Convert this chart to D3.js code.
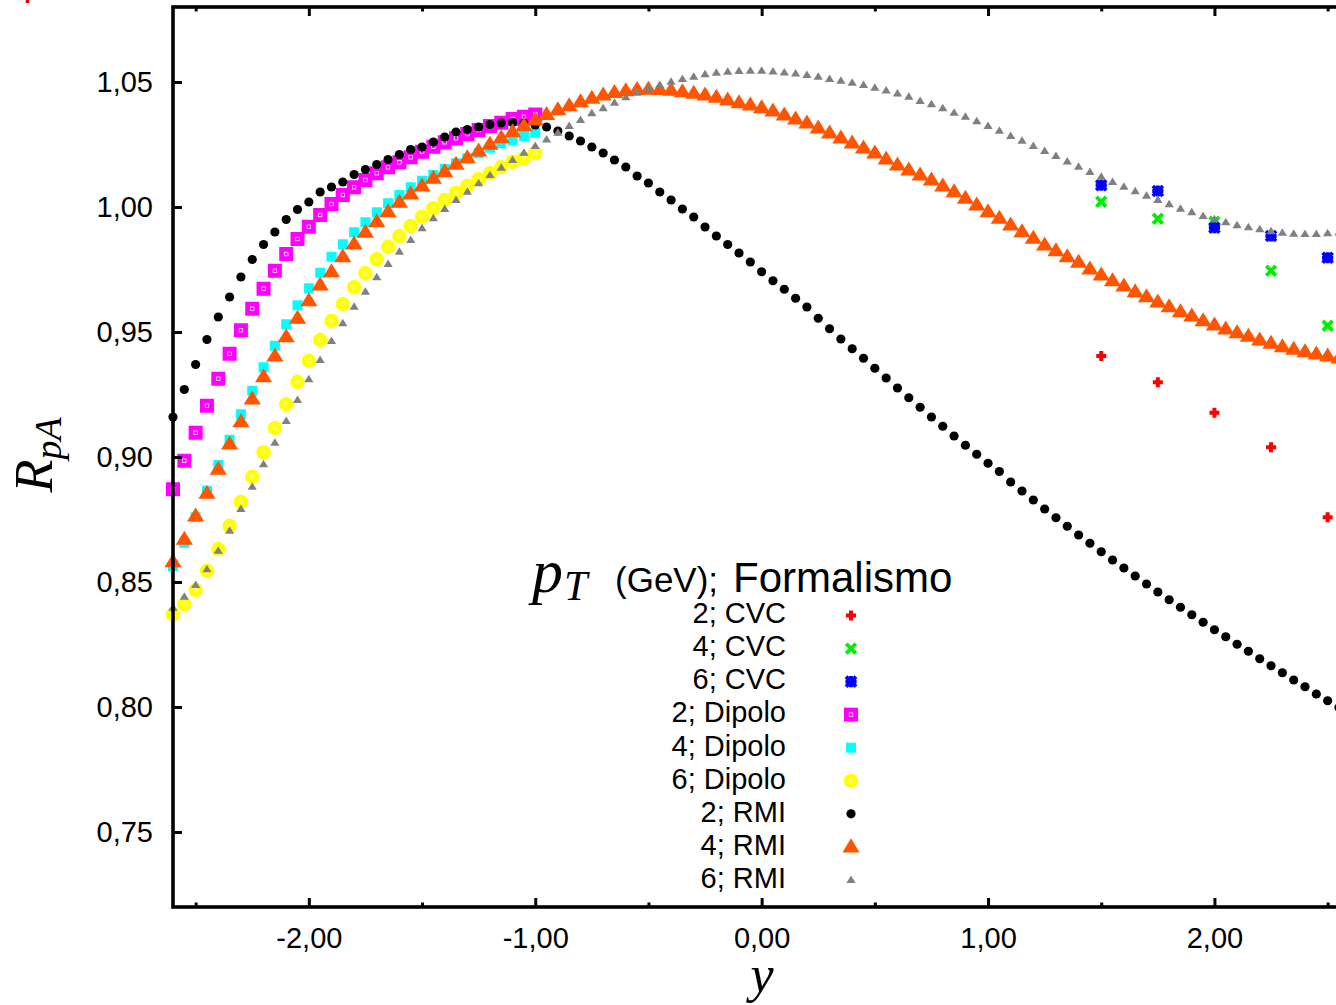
<!DOCTYPE html>
<html><head><meta charset="utf-8">
<script src="https://cdn.jsdelivr.net/npm/d3@7"></script>
<style>body{margin:0;background:#fff}svg{display:block}</style>
</head><body>
<script>
// ---- data ----
const rapidity = [-2.60,-2.55,-2.50,-2.45,-2.40,-2.35,-2.30,-2.25,-2.20,-2.15,-2.10,-2.05,-2.00,-1.95,-1.90,-1.85,-1.80,-1.75,-1.70,-1.65,
 -1.60,-1.55,-1.50,-1.45,-1.40,-1.35,-1.30,-1.25,-1.20,-1.15,-1.10,-1.05,-1.00,-0.95,-0.90,-0.85,-0.80,-0.75,-0.70,-0.65,
 -0.60,-0.55,-0.50,-0.45,-0.40,-0.35,-0.30,-0.25,-0.20,-0.15,-0.10,-0.05,0.00,0.05,0.10,0.15,0.20,0.25,0.30,0.35,
 0.40,0.45,0.50,0.55,0.60,0.65,0.70,0.75,0.80,0.85,0.90,0.95,1.00,1.05,1.10,1.15,1.20,1.25,1.30,1.35,
 1.40,1.45,1.50,1.55,1.60,1.65,1.70,1.75,1.80,1.85,1.90,1.95,2.00,2.05,2.10,2.15,2.20,2.25,2.30,2.35,
 2.40,2.45,2.50,2.55];
const rapidityDipolo = [-2.60,-2.55,-2.50,-2.45,-2.40,-2.35,-2.30,-2.25,-2.20,-2.15,-2.10,-2.05,-2.00,-1.95,-1.90,-1.85,-1.80,-1.75,-1.70,-1.65,
 -1.60,-1.55,-1.50,-1.45,-1.40,-1.35,-1.30,-1.25,-1.20,-1.15,-1.10,-1.05,-1.00];
const rapidityCVC = [1.50, 1.75, 2.00, 2.25, 2.50];

const cvc2 = [0.9404, 0.9299, 0.9177, 0.9039, 0.8759];
const cvc4 = [1.0021, 0.9953, 0.9941, 0.9745, 0.9525];
const cvc6 = [1.0087, 1.0064, 0.9917, 0.9884, 0.9797];

const dipolo2 = [0.8871,0.8985,0.9097,0.9205,0.9313,0.9413,0.9507,0.9593,0.9673,0.9745,0.9812,0.9872,0.9921,0.9968,1.0012,1.0048,1.0079,1.0108,1.0135,1.0159,
 1.0179,1.0199,1.0221,1.0241,1.0259,1.0275,1.0292,1.0308,1.0324,1.0337,1.0352,1.0361,1.0370];
const dipolo4 = [0.8564,0.8657,0.8759,0.8865,0.8968,0.9069,0.9171,0.9265,0.9359,0.9445,0.9531,0.9607,0.9675,0.9737,0.9801,0.9851,0.9899,0.9939,0.9979,1.0015,
 1.0048,1.0079,1.0105,1.0128,1.0152,1.0175,1.0195,1.0215,1.0237,1.0255,1.0268,1.0284,1.0297];
const dipolo6 = [0.8371,0.8411,0.8468,0.8545,0.8632,0.8725,0.8821,0.8921,0.9019,0.9116,0.9211,0.9301,0.9385,0.9468,0.9544,0.9612,0.9679,0.9735,0.9791,0.9841,
 0.9884,0.9924,0.9961,0.9995,1.0028,1.0057,1.0085,1.0111,1.0135,1.0159,1.0181,1.0195,1.0215];

const rmi2 = [0.916,0.927,0.937,0.947,0.956,0.964,0.972,0.979,0.985,0.990,
 0.995,0.999,1.002,1.006,1.008,1.010,1.013,1.015,1.017,1.019,
 1.021,1.023,1.024,1.026,1.028,1.030,1.031,1.032,1.033,1.0336,
 1.0338,1.0336,1.0328,1.032,1.0304,1.0284,1.0264,1.024,1.0216,1.0188,
 1.016,1.0124,1.0096,1.006,1.0028,0.9992,0.996,0.992,0.9884,0.985,
 0.9816,0.978,0.9741,0.9705,0.9671,0.9635,0.960,0.9555,0.9513,0.9472,
 0.9433,0.9395,0.9355,0.9316,0.9276,0.9237,0.9199,0.916,0.9123,0.9084,
 0.9047,0.9011,0.8975,0.8942,0.890,0.8864,0.8828,0.8792,0.8757,0.8723,
 0.8688,0.8655,0.8621,0.8588,0.8556,0.8524,0.8492,0.846,0.8429,0.8399,
 0.8369,0.8339,0.8309,0.8281,0.8251,0.8223,0.8193,0.8165,0.8137,0.8108,
 0.8081,0.8052,0.8025,0.7998];
const rmi4 = [0.8581,0.8671,0.8764,0.8855,0.8951,0.9052,0.9141,0.9232,0.9321,0.9404,
 0.9481,0.9555,0.9625,0.9688,0.9741,0.9801,0.9852,0.9899,0.9941,0.9981,
 1.0019,1.0052,1.0084,1.0115,1.0141,1.0171,1.0197,1.0224,1.0251,1.0277,
 1.0301,1.0325,1.0348,1.0370,1.0389,1.0405,1.0421,1.0435,1.0448,1.0458,
 1.0465,1.0470,1.0471,1.0470,1.0467,1.0461,1.0455,1.0448,1.0439,1.0428,
 1.0417,1.0408,1.0397,1.0384,1.0368,1.0352,1.0336,1.0316,1.0296,1.0276,
 1.0256,1.0236,1.0216,1.0192,1.0168,1.0148,1.0128,1.0108,1.0084,1.0061,
 1.0035,1.0008,0.9981,0.9955,0.9928,0.9901,0.9875,0.9848,0.9825,0.9801,
 0.9779,0.9752,0.9728,0.9705,0.9684,0.9661,0.9641,0.962,0.9601,0.9581,
 0.9564,0.9545,0.9528,0.9512,0.9497,0.9483,0.9468,0.9455,0.9441,0.9431,
 0.9421,0.9412,0.9404,0.9396];
const rmi6 = [0.8397,0.8441,0.8488,0.8551,0.8625,0.8705,0.8792,0.8881,0.8971,0.9057,
 0.9144,0.9228,0.9311,0.9388,0.9464,0.9535,0.9601,0.9661,0.9719,0.9772,
 0.9821,0.9868,0.9915,0.9955,0.9992,1.0028,1.0061,1.0095,1.0128,1.0157,
 1.0188,1.0217,1.0244,1.0270,1.0297,1.0324,1.0348,1.0375,1.0395,1.0417,
 1.0439,1.0457,1.0475,1.0488,1.0501,1.0512,1.0521,1.0531,1.0537,1.0541,
 1.0544,1.0545,1.0545,1.0542,1.0538,1.0534,1.0528,1.0521,1.0512,1.0505,
 1.0497,1.0488,1.0477,1.0466,1.0454,1.0441,1.0424,1.0411,1.0395,1.0377,
 1.0361,1.0343,1.0324,1.0305,1.0284,1.0265,1.0244,1.0224,1.0204,1.0182,
 1.0161,1.014,1.0121,1.01,1.0081,1.0063,1.0045,1.0028,1.0011,0.9993,
 0.9979,0.9964,0.9951,0.9939,0.9927,0.9919,0.9911,0.9903,0.9897,0.9893,
 0.9892,0.9892,0.9895,0.9898];

const xMajorTicks = [-2, -1, 0, 1, 2];
const xMinorTicks = [-2.5, -1.5, -0.5, 0.5, 1.5, 2.5];
const yMajorTicks = [0.75, 0.80, 0.85, 0.90, 0.95, 1.00, 1.05];
const legendLabels = ["2; CVC","4; CVC","6; CVC","2; Dipolo","4; Dipolo","6; Dipolo","2; RMI","4; RMI","6; RMI"];

// ---- layout ----
const W = 1336, H = 1005;
const L = 173, T = 7, B = 907, R = 173 + 5.2 * 226.4;
const x = d3.scaleLinear().domain([-2.6, 2.6]).range([L, R]);
const y = d3.scaleLinear().domain([0.72, 1.08]).range([B, T]);
const fmt = d => d3.format(".2f")(d).replace(".", ",").replace("\u2212", "-");
const SANS = "'Liberation Sans', Arial, Helvetica, sans-serif";
const SERIF = "'Liberation Serif', 'Times New Roman', serif";

const svg = d3.select("body").append("svg").attr("width", W).attr("height", H);

// marker painters
const markers = {
  plus: (g, c) => g.append("path").attr("d", "M-5,0H5M0,-5V5").attr("stroke", c).attr("stroke-width", 4).attr("fill", "none"),
  cross: (g, c) => g.append("path").attr("d", "M-4.8,-4.8L4.8,4.8M-4.8,4.8L4.8,-4.8").attr("stroke", c).attr("stroke-width", 3.8).attr("fill", "none"),
  star: (g, c) => g.append("path").attr("d", "M-5,-5L5,5M-5,5L5,-5M-5.6,0H5.6M0,-5.6V5.6").attr("stroke", c).attr("stroke-width", 3.8).attr("fill", "none"),
  openSquare: (g, c) => { g.append("rect").attr("x", -7).attr("y", -7).attr("width", 14).attr("height", 14).attr("fill", c);
    g.append("rect").attr("x", -1.8).attr("y", -1.8).attr("width", 3.6).attr("height", 3.6).attr("fill", "none").attr("stroke", "#fff").attr("stroke-width", 0.7); },
  square: (g, c) => g.append("rect").attr("x", -5).attr("y", -5).attr("width", 10).attr("height", 10).attr("fill", c),
  openCircle: (g, c) => { g.append("circle").attr("r", 7.2).attr("fill", c);
    g.append("circle").attr("r", 1.8).attr("fill", "none").attr("stroke", "#fff").attr("stroke-width", 0.6); },
  dot: (g, c) => g.append("circle").attr("r", 4.6).attr("fill", c),
  bigTri: (g, c) => g.append("path").attr("d", "M0,-8.5L8.6,5.6L-8.6,5.6Z").attr("fill", c),
  smallTri: (g, c) => g.append("path").attr("d", "M0,-4.5L4.6,3L-4.6,3Z").attr("fill", c)
};

const series = [
  {xs: rapidityCVC, ys: cvc2, m: "plus", c: "#ff0000"},
  {xs: rapidityCVC, ys: cvc4, m: "cross", c: "#00ee00"},
  {xs: rapidityCVC, ys: cvc6, m: "star", c: "#0000ff"},
  {xs: rapidityDipolo, ys: dipolo2, m: "openSquare", c: "#ff00ff"},
  {xs: rapidityDipolo, ys: dipolo4, m: "square", c: "#00ffff"},
  {xs: rapidityDipolo, ys: dipolo6, m: "openCircle", c: "#ffff00"},
  {xs: rapidity, ys: rmi2, m: "dot", c: "#000000"},
  {xs: rapidity, ys: rmi4, m: "bigTri", c: "#ff5500"},
  {xs: rapidity, ys: rmi6, m: "smallTri", c: "#808080"}
];

// data marks
series.forEach(s => {
  const g = svg.append("g");
  s.xs.forEach((xv, i) => {
    const p = g.append("g").attr("transform", `translate(${x(xv)},${y(s.ys[i])})`);
    markers[s.m](p, s.c);
  });
});

// stray clipped mark at top-left corner
svg.append("path").attr("d", "M22,-3H33M27.5,-8.5V3").attr("stroke", "#e00000").attr("stroke-width", 3.5);

// frame
svg.append("rect").attr("x", L).attr("y", T).attr("width", R - L).attr("height", B - T)
  .attr("fill", "none").attr("stroke", "#000").attr("stroke-width", 3.6);

// axes
function styleAxis(g) {
  g.select(".domain").remove();
  g.selectAll(".tick line").attr("stroke", "#000").attr("stroke-width", 3);
  g.selectAll(".tick text").attr("fill", "#000").style("font-family", SANS).style("font-size", "29px");
}
svg.append("g").attr("transform", `translate(0,${B})`)
  .call(d3.axisBottom(x).tickValues(xMajorTicks).tickSize(-9).tickPadding(20).tickFormat(fmt)).call(styleAxis);
svg.append("g").attr("transform", `translate(0,${B})`)
  .call(d3.axisBottom(x).tickValues(xMinorTicks).tickSize(-4.5).tickFormat("")).call(styleAxis);
svg.append("g").attr("transform", `translate(0,${T})`)
  .call(d3.axisTop(x).tickValues(xMajorTicks).tickSize(-9).tickFormat("")).call(styleAxis);
svg.append("g").attr("transform", `translate(0,${T})`)
  .call(d3.axisTop(x).tickValues(xMinorTicks).tickSize(-4.5).tickFormat("")).call(styleAxis);
const yAx = svg.append("g").attr("transform", `translate(${L},0)`)
  .call(d3.axisLeft(y).tickValues(yMajorTicks).tickSize(-9).tickPadding(20).tickFormat(fmt)).call(styleAxis);
yAx.selectAll(".tick text").attr("dy", "0.34em");
svg.append("g").attr("transform", `translate(${R},0)`)
  .call(d3.axisRight(y).tickValues(yMajorTicks).tickSize(-9).tickFormat("")).call(styleAxis);

// axis titles
svg.append("text").attr("x", 762).attr("y", 992).attr("text-anchor", "middle")
  .style("font-family", SERIF).style("font-style", "italic").style("font-size", "52px").text("y");
const yl = svg.append("text").attr("transform", "translate(52,455) rotate(-90)").attr("text-anchor", "middle")
  .style("font-family", SERIF).style("font-style", "italic");
yl.append("tspan").style("font-size", "54px").text("R");
yl.append("tspan").attr("dy", 9).style("font-size", "38px").text("pA");

// legend
const lg = svg.append("g");
const title = lg.append("text").attr("x", 532).attr("y", 592);
title.append("tspan").style("font-family", SERIF).style("font-style", "italic").style("font-size", "62px").text("p");
title.append("tspan").attr("dy", 8).attr("dx", 1).style("font-family", SERIF).style("font-style", "italic").style("font-size", "42px").text("T");
title.append("tspan").attr("x", 615).attr("dy", -8).style("font-family", SANS).style("font-size", "35px").text("(GeV);");
title.append("tspan").attr("x", 733).style("font-family", SANS).style("font-size", "42px").text("Formalismo");

legendLabels.forEach((lab, i) => {
  const cy = 615.5 + i * 33.05;
  lg.append("text").attr("x", 786).attr("y", cy + 7.8).attr("text-anchor", "end")
    .style("font-family", SANS).style("font-size", "29px").text(lab);
  const p = lg.append("g").attr("transform", `translate(851,${cy})`);
  markers[series[i].m](p, series[i].c);
});
</script>
</body></html>
